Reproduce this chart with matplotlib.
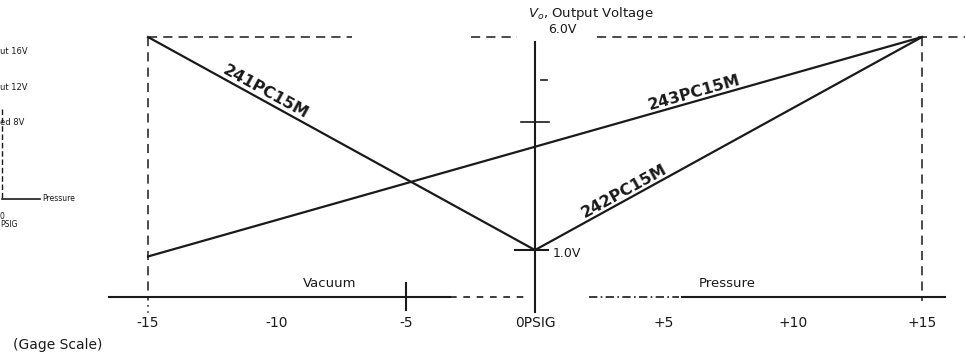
import numpy as np
import matplotlib
matplotlib.use("Agg")
from matplotlib import pyplot as plt

plt.rcParams['font.family'] = ['DejaVu Sans']

# pressure (psi, gage scale) and output voltage for each sensor
p241 = [-15, 0]
v241 = [6.0, 1.0]
p242 = [0, 15]
v242 = [1.0, 6.0]
p243 = [-15, 15]
v243 = [0.85, 6.0]

tick_pos = [-15, -10, -5, 0, 5, 10, 15]
tick_lab = ["-15", "-10", "-5", "0PSIG", "+5", "+10", "+15"]

v_min, v_max = 1.0, 6.0
ink = "#1a1a1a"

fig = plt.figure(figsize=(9.65, 3.54), dpi=100)
ax = fig.add_axes([0, 0, 1, 1])
ax.set_xlim(-20.74, 16.67)
ax.set_ylim(-1.44, 6.87)
ax.axis("off")

# sensor lines
ax.plot(p241, v241, color=ink, lw=1.6)
ax.plot(p242, v242, color=ink, lw=1.6)
ax.plot(p243, v243, color=ink, lw=1.6)

def label_on(p, v, frac, txt, off):
    x = p[0] + (p[1] - p[0]) * frac
    y = v[0] + (v[1] - v[0]) * frac + off
    ang = np.degrees(np.arctan2(v[1] - v[0], p[1] - p[0]))
    ax.text(x, y, txt, rotation=ang, transform_rotates_text=True,
            rotation_mode="anchor", ha="center", va="bottom",
            fontsize=11.5, fontweight="bold", color=ink)

label_on(p241, v241, 0.295, "241PC15M", 0.03)
label_on(p243, v243, 0.708, "243PC15M", 0.03)
label_on(p242, v242, 0.24, "242PC15M", 0.03)

# guide lines at full scale
ax.plot([-15, -7.1], [v_max, v_max], color=ink, lw=1.1, ls=(0, (6, 4)))
ax.plot([-2.5, -0.7], [v_max, v_max], color=ink, lw=1.1, ls=(0, (6, 4)))
ax.plot([2.4, 16.7], [v_max, v_max], color=ink, lw=1.1, ls=(0, (6, 4)))
ax.plot([-15, -15], [v_max, -0.15], color=ink, lw=1.1, ls=(0, (6, 4)))
ax.plot([-15, -15], [-0.15, -0.5], color=ink, lw=1.1, ls=(0, (1, 3)))
ax.plot([15, 15], [v_max, -0.2], color=ink, lw=1.1, ls=(0, (6, 4)))

# vertical voltage axis
ax.plot([0, 0], [5.88, -0.45], color=ink, lw=1.5)
ax.plot([-0.78, 0.5], [v_min, v_min], color=ink, lw=1.5)
ax.plot([-0.55, 0.55], [4.0, 4.0], color=ink, lw=1.2)
ax.plot([0.25, 0.45], [5.0, 5.0], color=ink, lw=1.2)

# horizontal pressure axis
ax.plot([-16.5, -3.3], [-0.1, -0.1], color=ink, lw=1.5)
ax.plot([-3.3, -0.2], [-0.1, -0.1], color=ink, lw=1.2, ls=(0, (4, 4)))
ax.plot([2.1, 5.6], [-0.1, -0.1], color=ink, lw=1.2, ls=(0, (5, 2, 1, 2)))
ax.plot([5.7, 15.9], [-0.1, -0.1], color=ink, lw=1.5)
ax.plot([-5, -5], [0.22, -0.4], color=ink, lw=1.5)

for p, t in zip(tick_pos, tick_lab):
    ax.text(p, -0.71, t, ha="center", va="center", fontsize=10, color=ink)

ax.text(-9.0, 0.22, "Vacuum", ha="left", va="center", fontsize=9.5, color=ink)
ax.text(6.35, 0.22, "Pressure", ha="left", va="center", fontsize=9.5, color=ink)
ax.text(-0.27, 6.55, "$V_o$, Output Voltage", ha="left", va="center",
        fontsize=9.5, color=ink)
ax.text(0.5, 6.18, "6.0V", ha="left", va="center", fontsize=9, color=ink)
ax.text(0.7, 0.93, "1.0V", ha="left", va="center", fontsize=9, color=ink)

# cut-off piece of the neighbouring figure on the left
ax.text(-20.74, 5.65, "ut 16V", ha="left", va="center", fontsize=6, color=ink)
ax.text(-20.74, 4.82, "ut 12V", ha="left", va="center", fontsize=6, color=ink)
ax.text(-20.74, 4.0, "ed 8V", ha="left", va="center", fontsize=6, color=ink)
ax.plot([-20.68, -20.68], [4.3, 2.2], color=ink, lw=1.0, ls=(0, (4, 2)))
ax.plot([-20.68, -19.2], [2.2, 2.2], color=ink, lw=1.2)
ax.text(-19.1, 2.2, "Pressure", ha="left", va="center", fontsize=5.5, color=ink)
ax.text(-20.74, 1.9, "0\nPSIG", ha="left", va="top", fontsize=5.5,
        color=ink, linespacing=0.9)
ax.text(-20.25, -1.24, "(Gage Scale)", ha="left", va="center", fontsize=10,
        color=ink)

plt.savefig("out.png", dpi=100)
